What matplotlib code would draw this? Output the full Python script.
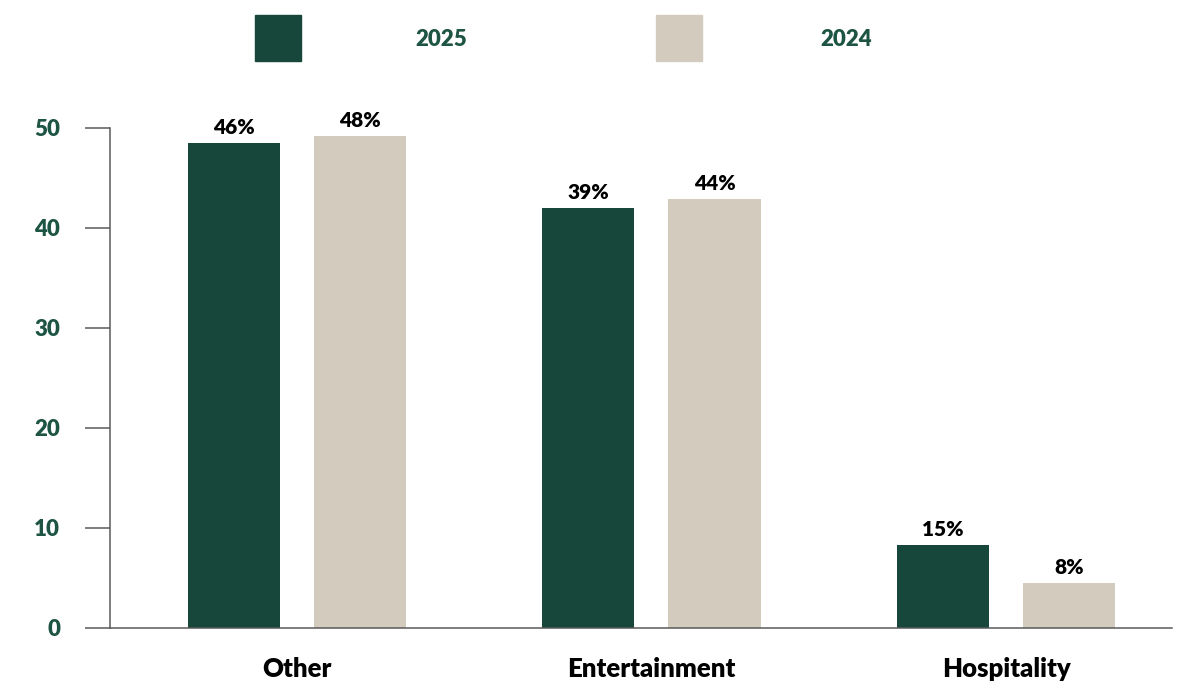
import numpy as np
import matplotlib.pyplot as plt
from matplotlib.patches import Rectangle

categories = ['Other', 'Entertainment', 'Hospitality']
series = ['2025', '2024']
# bar heights as drawn in the picture (the printed labels differ from the bar heights)
values_2025 = [48.5, 42.0, 8.3]
values_2024 = [49.2, 42.9, 4.5]
labels_2025 = ['46%', '39%', '15%']
labels_2024 = ['48%', '44%', '8%']
yticks = [0, 10, 20, 30, 40, 50]

green = '#16473a'
beige = '#d3ccbe'
text_green = '#1d5443'
axis_grey = '#5a5a5a'
weight = 'heavy'

plt.rcParams['font.family'] = ['Lato', 'DejaVu Sans']

fig = plt.figure(figsize=(11.79, 6.83), dpi=100)
ax = fig.add_axes([110 / 1179, 1 - 628 / 683, (1172 - 110) / 1179, (628 - 128) / 683])

x = np.arange(len(categories))
width = 0.26
offset = 0.178

bars_a = ax.bar(x - offset, values_2025, width, color=green)
bars_b = ax.bar(x + offset, values_2024, width, color=beige)

for bars, labels in [(bars_a, labels_2025), (bars_b, labels_2024)]:
    for b, lab in zip(bars, labels):
        ax.annotate(lab, (b.get_x() + b.get_width() / 2, b.get_height()),
                    xytext=(0, 4), textcoords='offset points',
                    ha='center', va='bottom', fontsize=15, fontweight=weight,
                    color='black', annotation_clip=False)

ax.set_xlim(-0.527, 2.468)
ax.set_ylim(0, 50)
ax.set_yticks(yticks)
ax.set_xticks(x)
ax.set_xticklabels(categories)

for s in ['top', 'right']:
    ax.spines[s].set_visible(False)
for s in ['left', 'bottom']:
    ax.spines[s].set_color(axis_grey)
    ax.spines[s].set_linewidth(1.1)

ax.tick_params(axis='y', direction='out', length=18, width=1.1, color=axis_grey,
               pad=18, labelsize=16, labelcolor=text_green)
ax.tick_params(axis='x', length=0, pad=21, labelsize=18.5, labelcolor='black')
for t in ax.get_yticklabels() + ax.get_xticklabels():
    t.set_fontweight(weight)

# legend drawn at the top of the figure
W, H = 1179, 683
for name, col, sx, tx in [(series[0], green, 255, 415), (series[1], beige, 656, 820)]:
    fig.patches.append(Rectangle((sx / W, 1 - 61 / H), 46 / W, 46 / H,
                                 transform=fig.transFigure, color=col))
    fig.text(tx / W, 1 - 40 / H, name, ha='left', va='center', fontsize=16,
             fontweight=weight, color=text_green)

fig.savefig('out.png', dpi=100)
